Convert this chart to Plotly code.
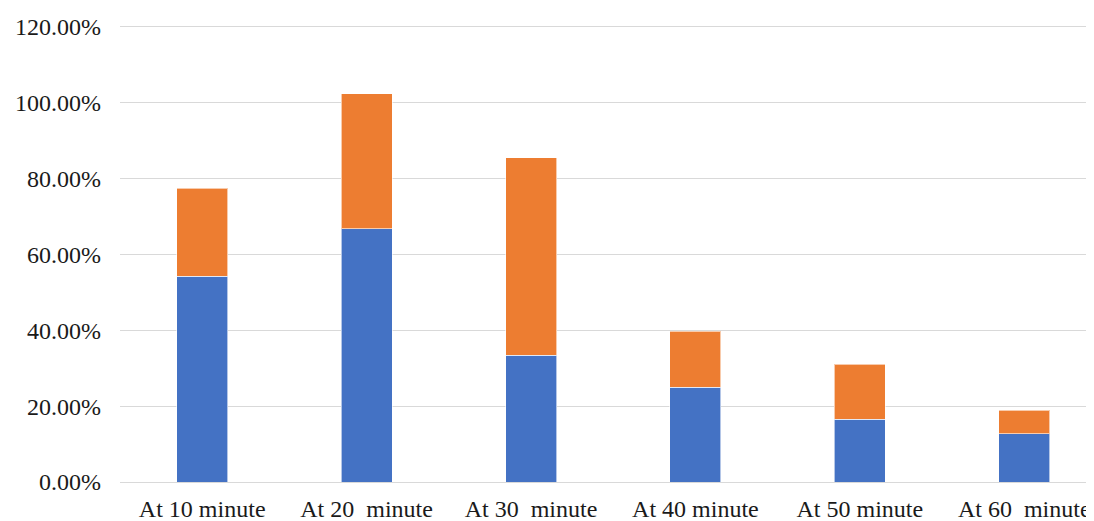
import plotly.graph_objects as go

categories = ["At 10 minute", "At 20\u00a0 minute", "At 30\u00a0 minute",
              "At 40 minute", "At 50 minute", "At 60\u00a0 minute"]
series_blue = [0.542, 0.667, 0.334, 0.250, 0.166, 0.127]
series_orange = [0.232, 0.356, 0.521, 0.147, 0.145, 0.062]
y_ticks = [0, 0.2, 0.4, 0.6, 0.8, 1.0, 1.2]

font_family = "Liberation Serif, Times New Roman, serif"

fig = go.Figure()
fig.add_trace(go.Bar(x=categories, y=series_blue, name="Series1",
                     marker=dict(color="#4472C4", line=dict(color="rgba(255,255,255,0.6)", width=1)),
                     width=0.31))
fig.add_trace(go.Bar(x=categories, y=series_orange, name="Series2",
                     marker=dict(color="#ED7D31", line=dict(color="rgba(255,255,255,0.6)", width=1)),
                     width=0.31))

# page body has an 8px default margin, so the figure is offset to compensate
fig.update_layout(
    barmode="stack",
    width=1094, height=521,
    margin=dict(l=112, r=0, t=15, b=47, autoexpand=False),
    paper_bgcolor="white", plot_bgcolor="white",
    showlegend=False,
    font=dict(family=font_family, size=24, color="#1a1a1a"),
)
fig.update_xaxes(range=[-0.5, 5.473], showgrid=False, showline=False, ticks="",
                 tickfont=dict(size=24), ticklabelstandoff=10, automargin=False)
fig.update_yaxes(range=[0, 1.21], tickvals=y_ticks, tickformat=".2%",
                 showgrid=True, gridcolor="#d9d9d9", gridwidth=1.3,
                 zeroline=True, zerolinecolor="#d9d9d9", zerolinewidth=1.3,
                 showline=False, ticks="", tickfont=dict(size=24),
                 ticklabelstandoff=18, automargin=False)

fig.write_html("out.html")
